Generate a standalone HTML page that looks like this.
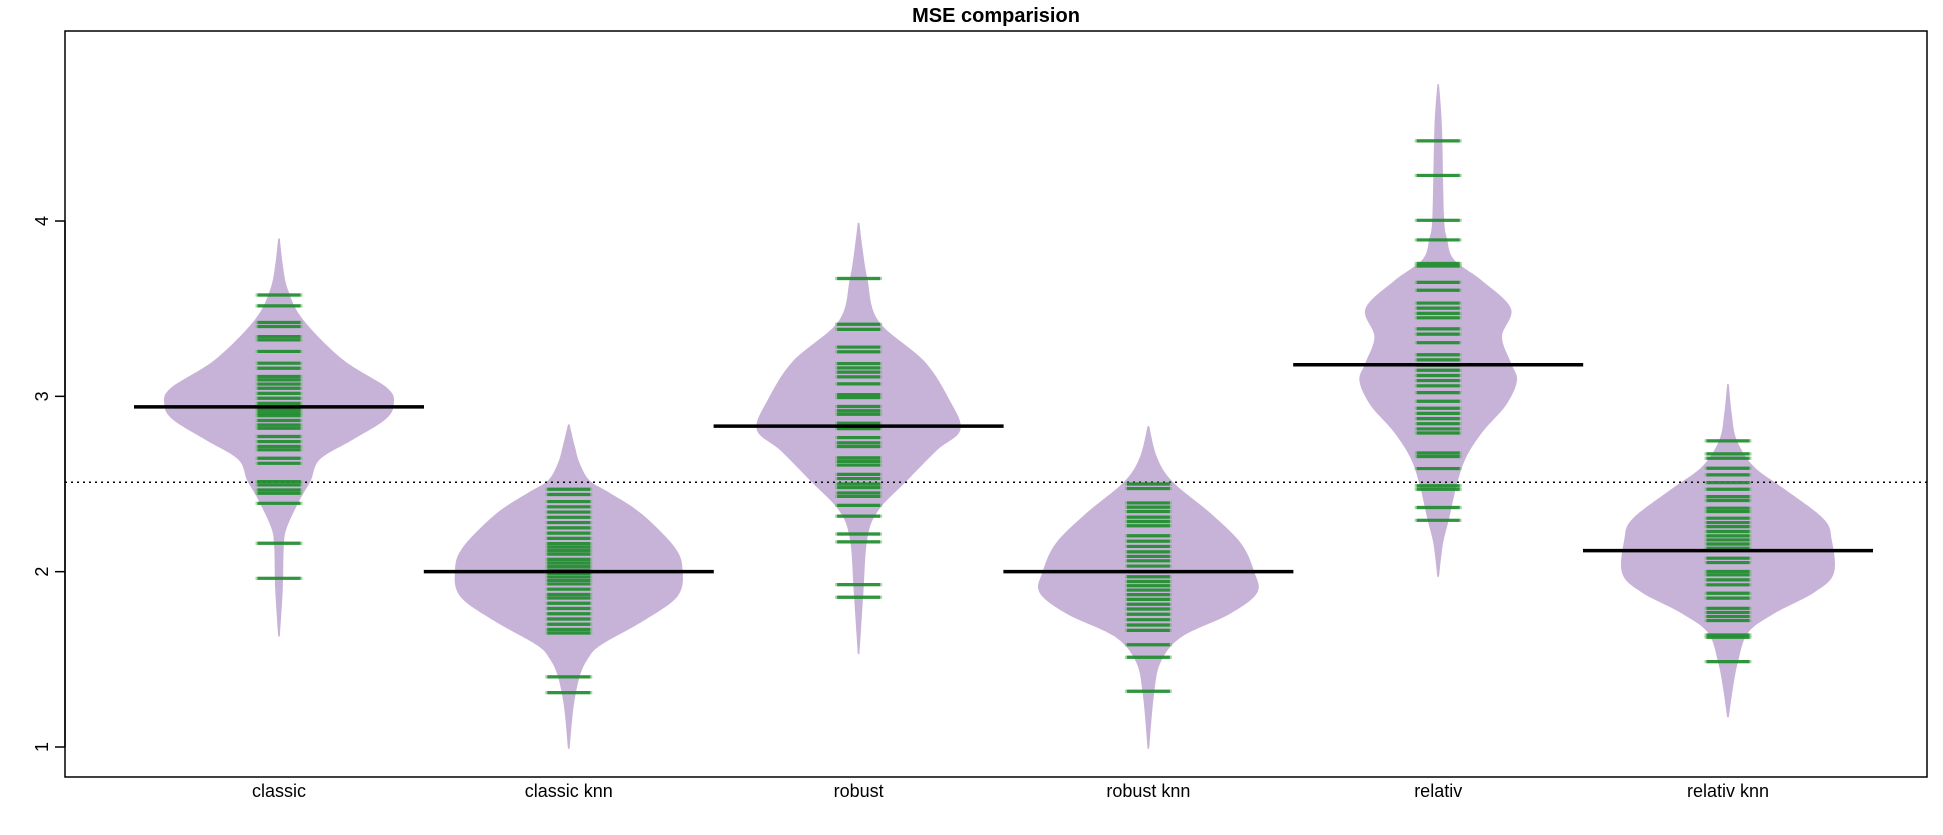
<!DOCTYPE html>
<html><head><meta charset="utf-8"><style>
html,body{margin:0;padding:0;background:#fff;}
svg{display:block;font-family:"Liberation Sans",Arial,sans-serif;}
</style></head><body>
<svg id="chart" width="1943" height="835" viewBox="0 0 1943 835" xmlns="http://www.w3.org/2000/svg">
<text x="996" y="22" text-anchor="middle" font-size="20" font-weight="bold">MSE comparision</text>
<g id="beans"></g>
<g id="axes"></g>
</svg>
<script>
const categories = ["classic","classic knn","robust","robust knn","relativ","relativ knn"];
const means = [2.94, 2.00, 2.83, 2.00, 3.18, 2.12];
const overallMean = 2.51;
const yTicks = [1,2,3,4];
const densVals = [
 [1.63,1.9,2.14,2.25,2.41,2.52,2.64,2.75,2.87,2.96,3.05,3.21,3.44,3.61,3.75,3.90],
 [0.99,1.23,1.40,1.50,1.58,1.72,1.86,2.01,2.14,2.33,2.45,2.52,2.62,2.72,2.84],
 [1.53,1.88,2.19,2.35,2.51,2.69,2.81,2.98,3.20,3.43,3.67,3.85,3.99],
 [0.99,1.31,1.49,1.63,1.76,1.88,2.00,2.16,2.33,2.51,2.65,2.83],
 [1.97,2.16,2.30,2.50,2.65,2.80,2.95,3.09,3.19,3.34,3.50,3.66,3.78,3.90,4.03,4.53,4.78],
 [1.17,1.33,1.48,1.65,1.76,1.88,1.99,2.18,2.30,2.47,2.60,2.75,2.90,3.07]
];
const densities = [
 [0,0.03,0.04,0.07,0.20,0.31,0.40,0.72,1.06,1.14,1.07,0.63,0.23,0.08,0.03,0],
 [0,0.04,0.10,0.18,0.31,0.74,1.08,1.13,1.05,0.72,0.40,0.20,0.10,0.05,0],
 [0,0.04,0.08,0.19,0.46,0.77,1.01,0.90,0.65,0.19,0.08,0.03,0],
 [0,0.05,0.12,0.33,0.81,1.08,1.05,0.92,0.62,0.24,0.08,0],
 [0,0.04,0.10,0.18,0.27,0.44,0.67,0.78,0.72,0.63,0.72,0.43,0.15,0.08,0.05,0.03,0],
 [0,0.04,0.09,0.19,0.45,0.85,1.05,1.03,0.95,0.56,0.25,0.08,0.03,0]
];
const obs = [
 [3.578,3.516,3.421,3.398,3.341,3.322,3.256,3.189,3.16,3.113,3.094,3.07,3.046,3.017,2.989,2.96,2.932,2.919,2.903,2.89,2.862,2.837,2.818,2.771,2.742,2.714,2.695,2.647,2.618,2.514,2.495,2.466,2.447,2.39,2.162,1.962],
 [2.47,2.44,2.40,2.37,2.34,2.31,2.28,2.25,2.22,2.19,2.16,2.14,2.12,2.10,2.07,2.05,2.03,2.01,1.99,1.97,1.95,1.93,1.90,1.87,1.85,1.82,1.79,1.76,1.73,1.70,1.67,1.65,1.40,1.31],
 [3.672,3.411,3.382,3.281,3.254,3.187,3.162,3.138,3.111,3.071,3.01,2.993,2.942,2.918,2.898,2.847,2.826,2.816,2.765,2.735,2.714,2.649,2.629,2.608,2.555,2.531,2.5,2.48,2.449,2.429,2.378,2.317,2.215,2.17,1.926,1.854],
 [2.5,2.474,2.392,2.368,2.343,2.311,2.286,2.262,2.205,2.174,2.144,2.113,2.087,2.062,2.032,2.001,1.971,1.944,1.92,1.895,1.869,1.842,1.814,1.787,1.757,1.726,1.696,1.665,1.583,1.512,1.318],
 [4.457,4.26,4.004,3.892,3.758,3.743,3.65,3.605,3.532,3.503,3.473,3.448,3.385,3.355,3.306,3.237,3.208,3.178,3.149,3.119,3.09,3.06,3.021,2.972,2.932,2.903,2.873,2.844,2.814,2.791,2.677,2.657,2.588,2.49,2.47,2.366,2.293],
 [2.746,2.672,2.647,2.59,2.552,2.508,2.47,2.428,2.406,2.362,2.343,2.305,2.28,2.257,2.229,2.204,2.181,2.158,2.134,2.077,2.052,2.001,1.982,1.953,1.925,1.877,1.849,1.791,1.767,1.744,1.721,1.639,1.626,1.487]
];
const NS="http://www.w3.org/2000/svg";
const box={l:65,r:1927,t:31,b:777};
function y(v){return 747-(v-1)*175.33;}
function x(i){return 279+i*289.8;}
const densScale=100, tickHalf=23.5, meanHalf=145;
const beans=document.getElementById('beans'), axes=document.getElementById('axes');
function mk(tag,attrs,parent){const e=document.createElementNS(NS,tag);for(const k in attrs)e.setAttribute(k,attrs[k]);parent.appendChild(e);return e;}
function smooth(pts){
  let d="M"+pts[0][0]+","+pts[0][1];
  for(let i=0;i<pts.length-1;i++){
    const p0=pts[Math.max(0,i-1)],p1=pts[i],p2=pts[i+1],p3=pts[Math.min(pts.length-1,i+2)];
    const c1=[p1[0]+(p2[0]-p0[0])/6,p1[1]+(p2[1]-p0[1])/6];
    const c2=[p2[0]-(p3[0]-p1[0])/6,p2[1]-(p3[1]-p1[1])/6];
    d+=" C"+c1[0].toFixed(1)+","+c1[1].toFixed(1)+" "+c2[0].toFixed(1)+","+c2[1].toFixed(1)+" "+p2[0].toFixed(1)+","+p2[1].toFixed(1);
  }
  return d;
}
categories.forEach((c,i)=>{
  const cx=x(i);
  const right=densVals[i].map((v,k)=>[cx+densities[i][k]*densScale+0.8,y(v)]);
  const left=densVals[i].map((v,k)=>[cx-densities[i][k]*densScale-0.8,y(v)]).reverse();
  const d=smooth(right)+" L"+left[0][0]+","+left[0][1]+" "+smooth(left).slice(1).replace(/^[^C]*/,"")+" Z";
  const p=mk('path',{d:d,fill:'#c8b3d8',stroke:'none'},beans);
  
  
});
const ol=mk('line',{x1:box.l,x2:box.r,y1:y(overallMean),y2:y(overallMean),stroke:'#000','stroke-width':1.5,'stroke-dasharray':'2,4'},beans);


categories.forEach((c,i)=>{
  const cx=x(i);
  const g=mk('g',{},beans);
  
  
  obs[i].forEach(v=>{
    const l=mk('line',{x1:cx-tickHalf,x2:cx+tickHalf,y1:y(v),y2:y(v),stroke:'#5cb85c','stroke-opacity':0.55,'stroke-width':3.2},g);
    
    
    const l2=mk('line',{x1:cx-tickHalf+2,x2:cx+tickHalf-2,y1:y(v),y2:y(v),stroke:'#1b8a2c','stroke-opacity':0.85,'stroke-width':3.2},g);
    
    
  });
  const m=mk('line',{x1:cx-meanHalf,x2:cx+meanHalf,y1:y(means[i]),y2:y(means[i]),stroke:'#000','stroke-width':3.5},beans);
  
  
  const t=mk('text',{x:cx,y:797,'text-anchor':'middle','font-size':18},axes);
  t.textContent=c;
  
  
});
const frame=mk('rect',{x:box.l,y:box.t,width:box.r-box.l,height:box.b-box.t,fill:'none',stroke:'#000','stroke-width':1.5},axes);


yTicks.forEach(v=>{
  const tk=mk('line',{x1:box.l-10,x2:box.l,y1:y(v),y2:y(v),stroke:'#000','stroke-width':1.5},axes);
  
  
  const tl=mk('text',{x:0,y:0,'text-anchor':'middle','font-size':18,transform:'translate(48,'+y(v)+') rotate(-90)'},axes);
  tl.textContent=String(v);
  
  
});
const ya=mk('line',{x1:box.l,x2:box.l,y1:y(yTicks[0]),y2:y(yTicks[yTicks.length-1]),stroke:'#000','stroke-width':1.5},axes);


</script>
</body></html>
